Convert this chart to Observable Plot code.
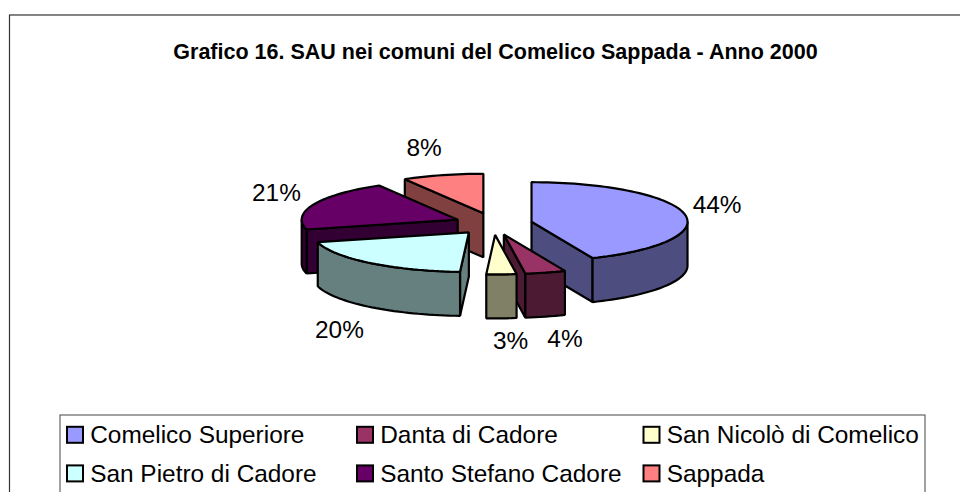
<!DOCTYPE html>
<html>
<head>
<meta charset="utf-8">
<style>html,body{margin:0;padding:0;background:#fff}svg{display:block}</style>
<script src="https://cdn.jsdelivr.net/npm/d3@7"></script>
<script src="https://cdn.jsdelivr.net/npm/@observablehq/plot@0.6"></script>
</head>
<body>
<script>
const titleText = "Grafico 16. SAU nei comuni del Comelico Sappada - Anno 2000";
const comuni = ["Comelico Superiore","Danta di Cadore","San Nicolò di Comelico","San Pietro di Cadore","Santo Stefano Cadore","Sappada"];
const shares = [43.6,4.2,3.1,20.1,20.6,8.4];
const topColors = ["#9999FF","#993366","#FFFFCC","#CCFFFF","#660066","#FF8080"];
const wallColors = ["#4D4D80","#4D1A33","#808066","#668080","#330033","#804040"];
const paintOrder = [5,4,3,0,1,2];

// pie projection
const P = {cx:493, cy:223.4, rx:156, ry:39.5, ex:38.8, ey:11, depth:44};
const font = "Liberation Sans";
const rad = d => d*Math.PI/180;
const total = d3.sum(shares);
let acc = 0;
const slices = shares.map((v,i)=>{
  const a0 = acc/total*360; acc += v; const a1 = acc/total*360; const mid=(a0+a1)/2;
  const ax = P.cx+P.ex*Math.sin(rad(mid)), ay = P.cy-P.ey*Math.cos(rad(mid));
  return {i,v,a0,a1,mid,ax,ay};
});
const rim = (s,a,dz=0)=>({x:s.ax+P.rx*Math.sin(rad(a)), y:s.ay-P.ry*Math.cos(rad(a))+dz});
const arc = (s,a0,a1,dz=0)=>{
  const n=Math.max(2,Math.ceil((a1-a0)/2)); const out=[];
  for(let k=0;k<=n;k++) out.push(rim(s,a0+(a1-a0)*k/n,dz));
  return out;
};
const faces=[];
for(const idx of paintOrder){
  const s=slices[idx];
  const apex={x:s.ax,y:s.ay}, apexB={x:s.ax,y:s.ay+P.depth};
  const wall=wallColors[idx];
  if(Math.sin(rad(s.a0))<-1e-6) faces.push({pts:[rim(s,s.a0),apex,apexB,rim(s,s.a0,P.depth)],fill:wall});
  if(Math.sin(rad(s.a1))>1e-6) faces.push({pts:[rim(s,s.a1),apex,apexB,rim(s,s.a1,P.depth)],fill:wall});
  const f0=Math.max(s.a0,90), f1=Math.min(s.a1,270);
  if(f1>f0) faces.push({pts:[...arc(s,f0,f1),...arc(s,f0,f1,P.depth).reverse()],fill:wall});
  faces.push({pts:[apex,...arc(s,s.a0,s.a1)],fill:topColors[idx]});
}
const labels = slices.map(s=>{
  const si=Math.sin(rad(s.mid)), co=-Math.cos(rad(s.mid));
  const r=rim(s,s.mid,co>0?P.depth:0);
  return {text:Math.round(s.v)+"%",
    x:r.x+(si>0?33*Math.pow(si,0.4):-39*Math.pow(-si,0.55)),
    y:r.y+(co>0?23:28*co-(co>-0.3?3:0))};
});
const legendCols=[67,357,643.5], legendRows=[434.8,473.4], swatch=16;
const legend = comuni.map((name,i)=>({name,color:topColors[i],x:legendCols[i%3],y:legendRows[Math.floor(i/3)]}));

const chart = Plot.plot({
  width:960,height:492,margin:0,
  x:{axis:null,domain:[0,960],range:[0,960]},
  y:{axis:null,domain:[0,492],range:[0,492]},
  style:{background:"#fff",fontFamily:font},
  marks:[
    Plot.rect([0],{x1:9.5,x2:1000,y1:15,y2:1000,fill:"#fff",stroke:"#333",strokeWidth:1.2}),
    Plot.text([titleText],{x:495,y:52,text:d=>d,fontSize:21.5,fontWeight:"bold",fill:"#000",fontFamily:font}),
    ...faces.map(f=>Plot.line(f.pts,{x:"x",y:"y",curve:"linear-closed",fill:f.fill,stroke:"#000",strokeWidth:2.2,strokeLinejoin:"miter"})),
    Plot.text(labels,{x:"x",y:"y",text:"text",fontSize:24.4,fill:"#000",fontFamily:font}),
    Plot.rect([0],{x1:60,x2:925,y1:415,y2:1000,fill:"#fff",stroke:"#555",strokeWidth:1.1}),
    Plot.rect(legend,{x1:"x",x2:d=>d.x+swatch,y1:d=>d.y-swatch/2,y2:d=>d.y+swatch/2,fill:"color",stroke:"#000",strokeWidth:2}),
    Plot.text(legend,{x:d=>d.x+22.7,y:"y",text:"name",textAnchor:"start",fontSize:24.4,fill:"#000",fontFamily:font})
  ]
});
document.body.appendChild(chart);
</script>
</body>
</html>
